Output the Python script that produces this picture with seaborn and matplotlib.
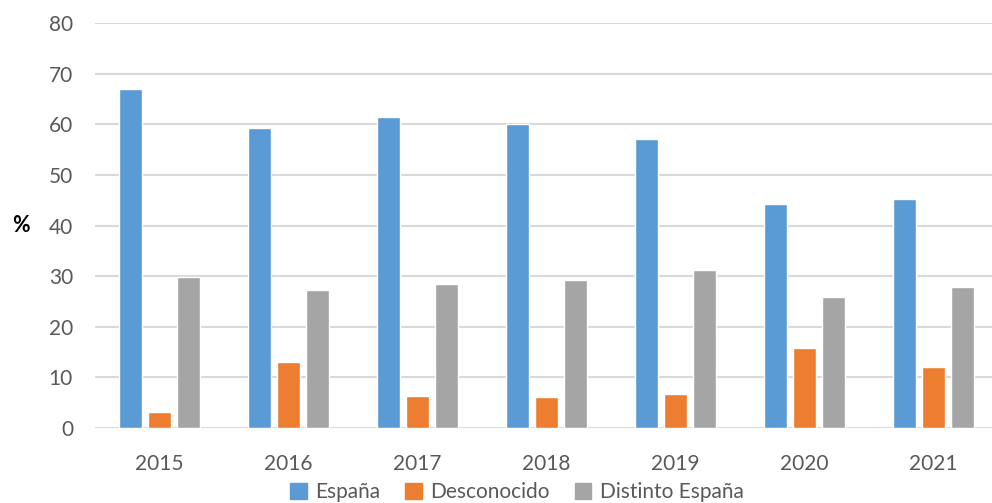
import seaborn as sns
import pandas as pd
import matplotlib.pyplot as plt
from matplotlib.patches import Patch

years = ["2015", "2016", "2017", "2018", "2019", "2020", "2021"]
espana = [66.9, 59.3, 61.5, 60.0, 57.2, 44.3, 45.3]
desconocido = [3.2, 13.1, 6.4, 6.2, 6.7, 15.9, 12.1]
distinto = [29.8, 27.3, 28.5, 29.3, 31.3, 25.8, 27.8]
series = ["España", "Desconocido", "Distinto España"]
colors = ["#5B9BD5", "#ED7D31", "#A5A5A5"]

df = pd.DataFrame({"year": years * 3,
                   "serie": [series[0]] * 7 + [series[1]] * 7 + [series[2]] * 7,
                   "value": espana + desconocido + distinto})

sns.set_style("white")
plt.rcParams['font.family'] = ['Lato', 'DejaVu Sans']

fig = plt.figure(figsize=(9.92, 5.03), dpi=100)
ax = fig.add_axes([0.096, 0.149, 0.91, 0.805])
sns.barplot(data=df, x="year", y="value", hue="serie", palette=colors,
            saturation=1, width=0.675, gap=0.2, ax=ax, legend=False, zorder=3)

ax.set_ylim(0, 80)
ax.set_xlim(-0.5, 6.5)
ax.set_yticks(range(0, 81, 10))
ax.yaxis.grid(True, color="#D9D9D9", linewidth=1.5, zorder=0)
ax.set_axisbelow(True)
for s in ax.spines.values():
    s.set_visible(False)
ax.tick_params(axis="both", length=0, labelsize=15, labelcolor="#595959")
ax.tick_params(axis="x", pad=19)
ax.tick_params(axis="y", pad=16)
ax.set_xlabel("")
ax.set_ylabel("")
fig.text(0.012, 0.552, "%", fontsize=15.5, fontweight="bold", color="black", va="center")

handles = [Patch(color=c, label=l) for c, l in zip(colors, series)]
fig.legend(handles=handles, loc="center", bbox_to_anchor=(0.521, 0.022), ncol=3,
           frameon=False, fontsize=15, handlelength=0.8, handleheight=0.8,
           handletextpad=0.4, columnspacing=1.2, labelcolor="#595959")

fig.savefig("out.png", dpi=100)
